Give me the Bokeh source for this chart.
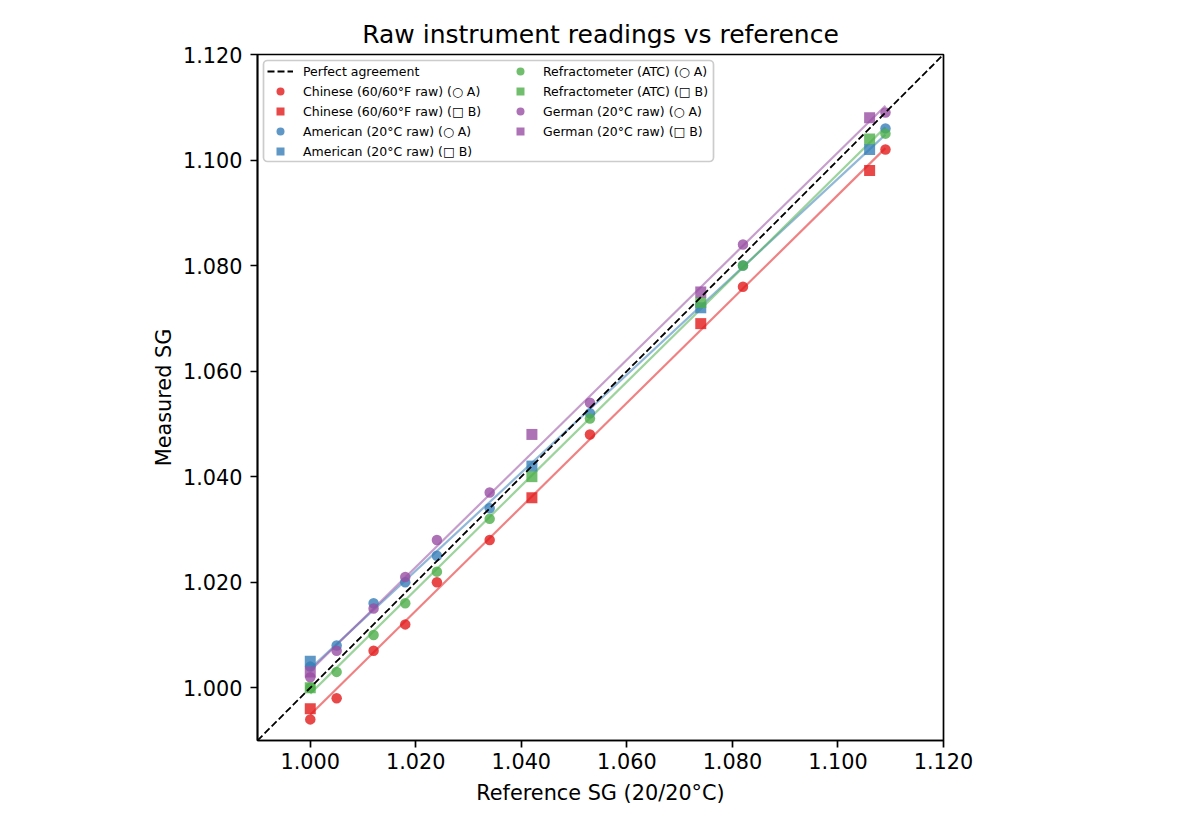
import numpy as np
from bokeh.plotting import figure
from bokeh.models import Legend, LegendItem, FixedTicker, PrintfTickFormatter, Range1d, BoxAnnotation
from bokeh.embed import file_html
from bokeh.resources import INLINE

# reference SG values
ref_a = [1.000, 1.005, 1.012, 1.018, 1.024, 1.034, 1.053, 1.082, 1.109]
ref_b = [1.000, 1.042, 1.074, 1.106]

# measured values per instrument (A = circles, B = squares)
chinese_a = [0.994, 0.998, 1.007, 1.012, 1.020, 1.028, 1.048, 1.076, 1.102]
chinese_b = [0.996, 1.036, 1.069, 1.098]
american_a = [1.004, 1.008, 1.016, 1.020, 1.025, 1.034, 1.052, 1.080, 1.106]
american_b = [1.005, 1.042, 1.072, 1.102]
refract_a = [1.000, 1.003, 1.010, 1.016, 1.022, 1.032, 1.051, 1.080, 1.105]
refract_b = [1.000, 1.040, 1.073, 1.104]
german_a = [1.002, 1.007, 1.015, 1.021, 1.028, 1.037, 1.054, 1.084, 1.109]
german_b = [1.003, 1.048, 1.075, 1.108]

instruments = ["Chinese (60/60°F raw)", "American (20°C raw)", "Refractometer (ATC)", "German (20°C raw)"]
series_a = [chinese_a, american_a, refract_a, german_a]
series_b = [chinese_b, american_b, refract_b, german_b]
colors = ["#e41a1c", "#377eb8", "#4daf4a", "#984ea3"]

ticks = [1.000, 1.020, 1.040, 1.060, 1.080, 1.100, 1.120]
lims = [0.990, 1.120]

FONT = "DejaVu Sans"
FRAME = 686
LEFT, TOP = 257, 54
W, H = 1184, 817

p = figure(width=W, height=H, output_backend="svg", toolbar_location=None,
           x_range=Range1d(*lims), y_range=Range1d(*lims),
           min_border_left=LEFT, min_border_right=W - LEFT - FRAME,
           min_border_top=TOP, min_border_bottom=H - TOP - FRAME,
           title="Raw instrument readings vs reference")
p.frame_width = FRAME
p.frame_height = FRAME

p.title.align = "center"
p.title.text_font = FONT
p.title.text_font_size = "25px"
p.title.text_font_style = "normal"
p.title.text_color = "black"
p.title.standoff = 11

p.xgrid.visible = False
p.ygrid.visible = False
p.outline_line_color = "black"
p.outline_line_width = 1.7
p.outline_line_alpha = 1

for ax in (p.xaxis[0], p.yaxis[0]):
    ax.ticker = FixedTicker(ticks=ticks)
    ax.formatter = PrintfTickFormatter(format="%.3f")
    ax.major_label_text_font = FONT
    ax.major_label_text_font_size = "20.8px"
    ax.major_label_text_color = "black"
    ax.axis_label_text_font = FONT
    ax.axis_label_text_font_size = "20.8px"
    ax.axis_label_text_font_style = "normal"
    ax.axis_label_text_color = "black"
    ax.minor_tick_line_color = None
    ax.major_tick_out = 7
    ax.major_tick_in = 0
    ax.major_tick_line_color = "black"
    ax.major_tick_line_width = 1.7
    ax.axis_line_color = "black"
    ax.axis_line_width = 1.7

p.xaxis.major_label_standoff = 5
p.yaxis.major_label_standoff = 8
p.xaxis.axis_label_standoff = 9
p.yaxis.axis_label_standoff = 4
p.xaxis.axis_label = "Reference SG (20/20°C)"
p.yaxis.axis_label = "Measured SG"
p.yaxis.major_label_orientation = "horizontal"

# legend frame (drawn behind both legend columns)
s = FRAME / (lims[1] - lims[0])
box = BoxAnnotation(left=lims[0] + 6 / s, right=lims[0] + 456 / s,
                    top=lims[1] - 6 / s, bottom=lims[1] - 107 / s,
                    fill_color="white", fill_alpha=0.85,
                    line_color="#cccccc", line_width=1.7, line_alpha=1, border_radius=4)
p.add_layout(box)

# fitted lines (per instrument, A and B combined)
for a, b, c in zip(series_a, series_b, colors):
    xs = np.array(ref_a + ref_b)
    ys = np.array(a + b)
    k, m = np.polyfit(xs, ys, 1)
    x0, x1 = xs.min(), xs.max()
    p.line([x0, x1], [k * x0 + m, k * x1 + m], line_color=c, line_alpha=0.55, line_width=2.2)

scatter_items = []
for name, a, b, c in zip(instruments, series_a, series_b, colors):
    ra = p.scatter(ref_a, a, marker="circle", size=10.5, fill_color=c, line_color=None, fill_alpha=0.8)
    rb = p.scatter(ref_b, b, marker="square", size=11, fill_color=c, line_color=None, fill_alpha=0.8)
    scatter_items.append(LegendItem(label=name + " (○ A)", renderers=[ra]))
    scatter_items.append(LegendItem(label=name + " (□ B)", renderers=[rb]))

diag = p.line(lims, lims, line_color="black", line_dash="7 3", line_width=1.8)
items = [LegendItem(label="Perfect agreement", renderers=[diag])] + scatter_items

RH = 20
common = dict(label_text_font=FONT, label_text_font_size="12.5px", label_text_color="black",
              label_height=15, glyph_height=RH, glyph_width=26, spacing=0,
              label_standoff=10, padding=0, margin=0,
              border_line_color=None, background_fill_alpha=0)
col1 = items[:5]
col2 = items[5:]
h1 = 5 * RH
h2 = 4 * RH
top_off = 7
leg1 = Legend(items=col1, location=(10, FRAME - top_off - h1), **common)
leg2 = Legend(items=col2, location=(250, FRAME - top_off - h2), **common)
p.add_layout(leg1, "center")
p.add_layout(leg2, "center")

open("out.html", "w").write(file_html(p, INLINE))
